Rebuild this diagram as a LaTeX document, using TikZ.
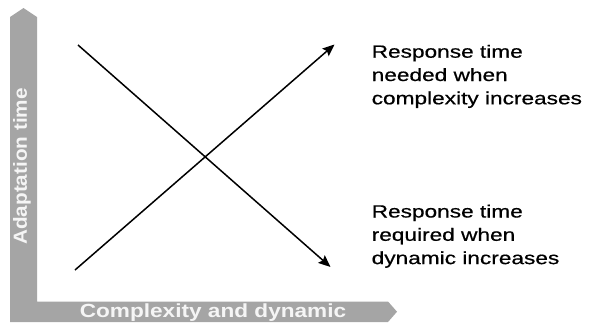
\documentclass[tikz,border=0pt]{standalone}
\usepackage{fontspec}
\setmainfont{Liberation Sans}
\newfontfamily\legendfont[FakeStretch=1.28,FakeBold=0.6]{Liberation Sans}
\usetikzlibrary{arrows.meta}
\definecolor{axisgray}{RGB}{165,165,165}
\definecolor{axistext}{RGB}{245,245,245}
\tikzset{
  axisbar/.style={fill=axisgray, draw=none},
  axislabel/.style={text=axistext, font=\fontsize{19}{21}\selectfont\bfseries, inner sep=0pt},
  trendline/.style={line width=1.5pt, -{Stealth[length=12pt,width=10pt,inset=2pt]}},
  legend/.style={anchor=base west, inner sep=0pt, font=\legendfont\fontsize{17.7}{23.3}\selectfont}
}
\begin{document}
\begin{tikzpicture}[x=1pt,y=-1pt]
\useasboundingbox (0,0) rectangle (589,322);
\fill[white] (0,0) rectangle (589,322);
% axes
\path[axisbar] (10,322) -- (10,17) -- (23.5,8) -- (37,17) -- (37,301.5) -- (388,301.5) -- (397,311.7) -- (388,322) -- cycle;
\node[axislabel, rotate=90, anchor=base] (ylab) at (27,166.5) {\scalebox{1.09}[1]{Adaptation time}};
\node[axislabel, anchor=base] (xlab) at (213,317) {\scalebox{1.19}[1]{Complexity and dynamic}};
% trend lines
\coordinate (a1) at (75,270);
\coordinate (a2) at (334.5,44.5);
\coordinate (b1) at (78,45);
\coordinate (b2) at (330.5,267);
\draw[trendline] (a1) -- (a2);
\draw[trendline] (b1) -- (b2);
% legends
\node[legend] (t1) at (371.5,57.7) {\begin{tabular}[t]{@{}l@{}}Response time\\needed when\\complexity increases\end{tabular}};
\node[legend] (t2) at (371.5,217.5) {\begin{tabular}[t]{@{}l@{}}Response time\\required when\\dynamic increases\end{tabular}};
\end{tikzpicture}
\end{document}
